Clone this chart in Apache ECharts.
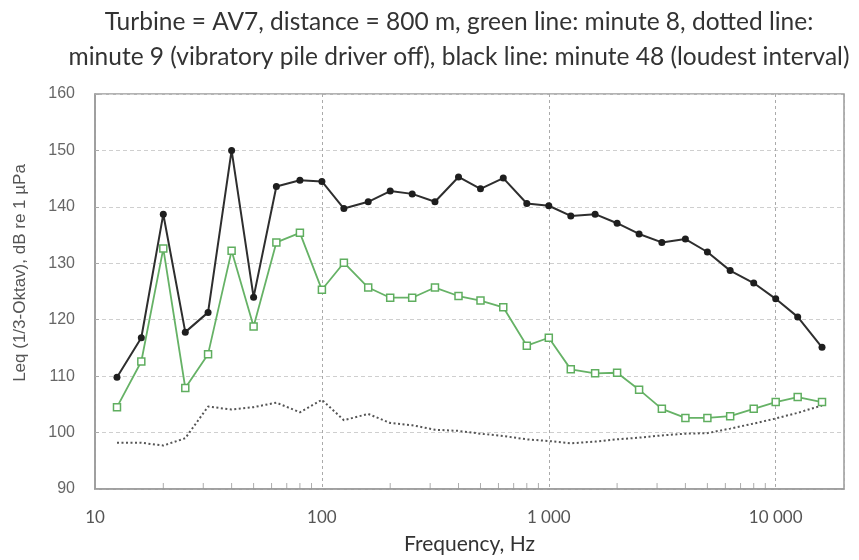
<!DOCTYPE html>
<html><head><meta charset="utf-8">
<script src="https://cdn.jsdelivr.net/npm/echarts@6/dist/echarts.min.js"></script>
<style>html,body{margin:0;padding:0;background:#fff}#c{width:859px;height:560px}</style>
</head><body><div id="c"></div>
<script>
const freqs = [12.5,16,20,25,31.5,40,50,63,80,100,125,160,200,250,315,400,500,630,800,1000,1250,1600,2000,2500,3150,4000,5000,6300,8000,10000,12500,16000];
const minute48 = [109.8,116.8,138.7,117.8,121.3,150.0,124.0,143.6,144.7,144.5,139.7,140.9,142.8,142.3,140.9,145.3,143.2,145.1,140.6,140.2,138.4,138.7,137.1,135.2,133.7,134.3,132.0,128.7,126.5,123.7,120.5,115.1];
const minute8 = [104.5,112.6,132.6,107.9,113.9,132.2,118.8,133.7,135.4,125.3,130.1,125.7,123.9,123.9,125.7,124.2,123.4,122.2,115.4,116.8,111.2,110.5,110.6,107.6,104.2,102.6,102.6,102.9,104.2,105.4,106.3,105.4];
const minute9 = [98.2,98.2,97.7,99.0,104.6,104.1,104.5,105.3,103.6,105.8,102.2,103.3,101.7,101.3,100.5,100.3,99.8,99.4,98.8,98.5,98.1,98.4,98.8,99.1,99.5,99.8,99.9,100.7,101.6,102.5,103.5,104.8];
const xTickLabels = {10:'10',100:'100',1000:'1 000',10000:'10 000'};
const minorTicks = [20,30,40,50,60,70,80,90,200,300,400,500,600,700,800,900,2000,3000,4000,5000,6000,7000,8000,9000];
const titleLines = ['Turbine = AV7, distance = 800 m, green line: minute 8, dotted line:',
  'minute 9 (vibratory pile driver off), black line: minute 48 (loudest interval)'];
const yName = 'Leq (1/3-Oktav), dB re 1 µPa';
const xName = 'Frequency, Hz';

const pair = a => freqs.map((f,i)=>[f,a[i]]);
const titleStyle = {fontFamily:'Lato',fontSize:24.5,fill:'#333',textAlign:'center',textVerticalAlign:'middle'};
const chart = echarts.init(document.getElementById('c'));
chart.setOption({
  animation:false,
  grid:{left:95,right:15,top:94,bottom:66,show:true,borderColor:'#9a9a9a',borderWidth:1.5},
  graphic:[
    {type:'text',x:459,y:22,style:Object.assign({text:titleLines[0]},titleStyle)},
    {type:'text',x:459,y:57,style:Object.assign({text:titleLines[1]},titleStyle)},
    {type:'text',x:20,y:273,rotation:Math.PI/2,
      style:{text:yName,fontFamily:'Liberation Sans',fontSize:17,fill:'#555',textAlign:'center',textVerticalAlign:'middle'}}
  ],
  xAxis:{type:'log',logBase:10,min:10,max:20000,
    name:xName,nameLocation:'middle',nameGap:45,
    nameTextStyle:{fontFamily:'Lato',fontSize:21,color:'#333'},
    axisLine:{show:true,lineStyle:{color:'#9a9a9a',width:1.5}},
    axisTick:{show:false},
    axisLabel:{margin:20,fontFamily:'Lato',fontSize:17,color:'#555',
      formatter:v=>xTickLabels[Math.round(v)]||''},
    splitLine:{show:true,lineStyle:{color:'#aaa',type:[3,3],width:1}}},
  yAxis:{type:'value',min:90,max:160,interval:10,
    axisLine:{show:true,lineStyle:{color:'#9a9a9a',width:1.5}},
    axisTick:{show:true,inside:true,length:4,lineStyle:{color:'#aaa'}},
    axisLabel:{margin:20,fontFamily:'Liberation Sans',fontSize:16,color:'#666'},
    splitLine:{show:true,lineStyle:{color:'#cfcfcf',type:[4,3],width:1}}},
  series:[
    {type:'scatter',data:minorTicks.map(f=>[f,90]),symbol:'rect',symbolSize:[1,6],symbolOffset:[0,-3],
      itemStyle:{color:'#999'},silent:true,z:1},
    {name:'minute 9',type:'line',data:pair(minute9),showSymbol:false,symbol:'none',
      lineStyle:{color:'#555',width:2,type:[2,2.5]}},
    {name:'minute 8',type:'line',data:pair(minute8),symbol:'rect',symbolSize:7,
      lineStyle:{color:'#66b266',width:1.8},itemStyle:{color:'#fff',borderColor:'#5fae5f',borderWidth:1.5}},
    {name:'minute 48',type:'line',data:pair(minute48),symbol:'circle',symbolSize:7,
      lineStyle:{color:'#2e2e2e',width:2},itemStyle:{color:'#1e1e1e'}}
  ]
});
</script></body></html>
